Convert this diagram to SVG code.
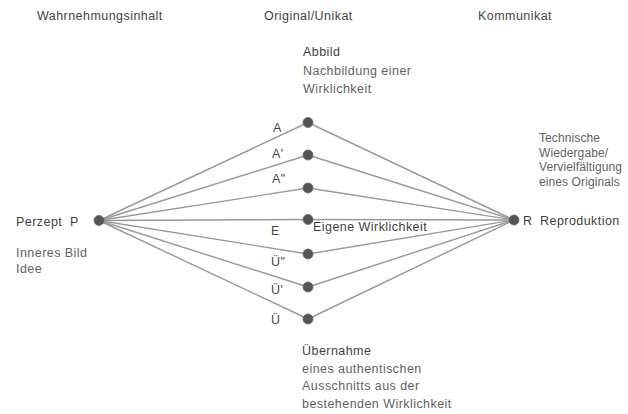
<svg xmlns="http://www.w3.org/2000/svg" width="628" height="414" viewBox="0 0 628 414">
<style>
text{font-family:"Liberation Sans",Arial,Helvetica,sans-serif;font-size:12.5px;letter-spacing:0.45px;fill:#555}
.h{fill:#444}
.d{fill:#626262}
.t{fill:#3f3f3f}
.lbl{fill:#444}
.n{font-size:12px;letter-spacing:0.1px}
.c line{stroke:#999;stroke-width:1.4}
.dot{fill:#555;stroke:#666;stroke-width:0.8}
</style>
<rect width="628" height="414" fill="#fff"/>
<g id="headers">
<text class="h" x="37" y="20">Wahrnehmungsinhalt</text>
<text class="h" x="264" y="20">Original/Unikat</text>
<text class="h" x="478" y="20">Kommunikat</text>
</g>
<g class="c" id="connectors">
<line x1="99" y1="220.5" x2="308" y2="122.5"/>
<line x1="99" y1="220.5" x2="308" y2="155"/>
<line x1="99" y1="220.5" x2="308" y2="188"/>
<line x1="99" y1="220.5" x2="308" y2="219.5"/>
<line x1="99" y1="220.5" x2="308" y2="254"/>
<line x1="99" y1="220.5" x2="308" y2="287"/>
<line x1="99" y1="220.5" x2="308" y2="319"/>
<line x1="308" y1="122.5" x2="514" y2="220"/>
<line x1="308" y1="155" x2="514" y2="220"/>
<line x1="308" y1="188" x2="514" y2="220"/>
<line x1="308" y1="219.5" x2="514" y2="220"/>
<line x1="308" y1="254" x2="514" y2="220"/>
<line x1="308" y1="287" x2="514" y2="220"/>
<line x1="308" y1="319" x2="514" y2="220"/>
</g>
<g id="P">
<circle class="dot" cx="99" cy="220.5" r="5"/>
<text class="t" x="16" y="226">Perzept</text>
<text class="t" x="70" y="226">P</text>
<text class="d" x="16" y="257">Inneres Bild</text>
<text class="d" x="16" y="273">Idee</text>
</g>
<g id="A">
<circle class="dot" cx="308" cy="122.5" r="5"/>
<text class="lbl" x="273" y="132">A</text>
<text class="t" x="303" y="56">Abbild</text>
<text class="d" x="303" y="74.5">Nachbildung einer</text>
<text class="d" x="303" y="92.5">Wirklichkeit</text>
</g>
<g id="A1">
<circle class="dot" cx="308" cy="155" r="5"/>
<text class="lbl" x="272" y="158">A'</text>
</g>
<g id="A2">
<circle class="dot" cx="308" cy="188" r="5"/>
<text class="lbl" x="272" y="183">A"</text>
</g>
<g id="E">
<circle class="dot" cx="308" cy="219.5" r="5"/>
<text class="lbl" x="271" y="235">E</text>
<text class="t" x="313" y="231">Eigene Wirklichkeit</text>
</g>
<g id="U2">
<circle class="dot" cx="308" cy="254" r="5"/>
<text class="lbl" x="271" y="266">Ü"</text>
</g>
<g id="U1">
<circle class="dot" cx="308" cy="287" r="5"/>
<text class="lbl" x="271" y="294">Ü'</text>
</g>
<g id="U">
<circle class="dot" cx="308" cy="319" r="5"/>
<text class="lbl" x="271" y="324">Ü</text>
<text class="t" x="302" y="355">Übernahme</text>
<text class="d" x="302" y="372.5">eines authentischen</text>
<text class="d" x="302" y="390">Ausschnitts aus der</text>
<text class="d" x="302" y="407.5">bestehenden Wirklichkeit</text>
</g>
<g id="R">
<circle class="dot" cx="514" cy="220" r="5"/>
<text class="t" x="523" y="224.5">R</text>
<text class="t" x="540" y="224.5">Reproduktion</text>
<text class="d n" x="539" y="142">Technische</text>
<text class="d n" x="539" y="156.5">Wiedergabe/</text>
<text class="d n" x="539" y="171">Vervielfältigung</text>
<text class="d n" x="539" y="186">eines Originals</text>
</g>
</svg>
